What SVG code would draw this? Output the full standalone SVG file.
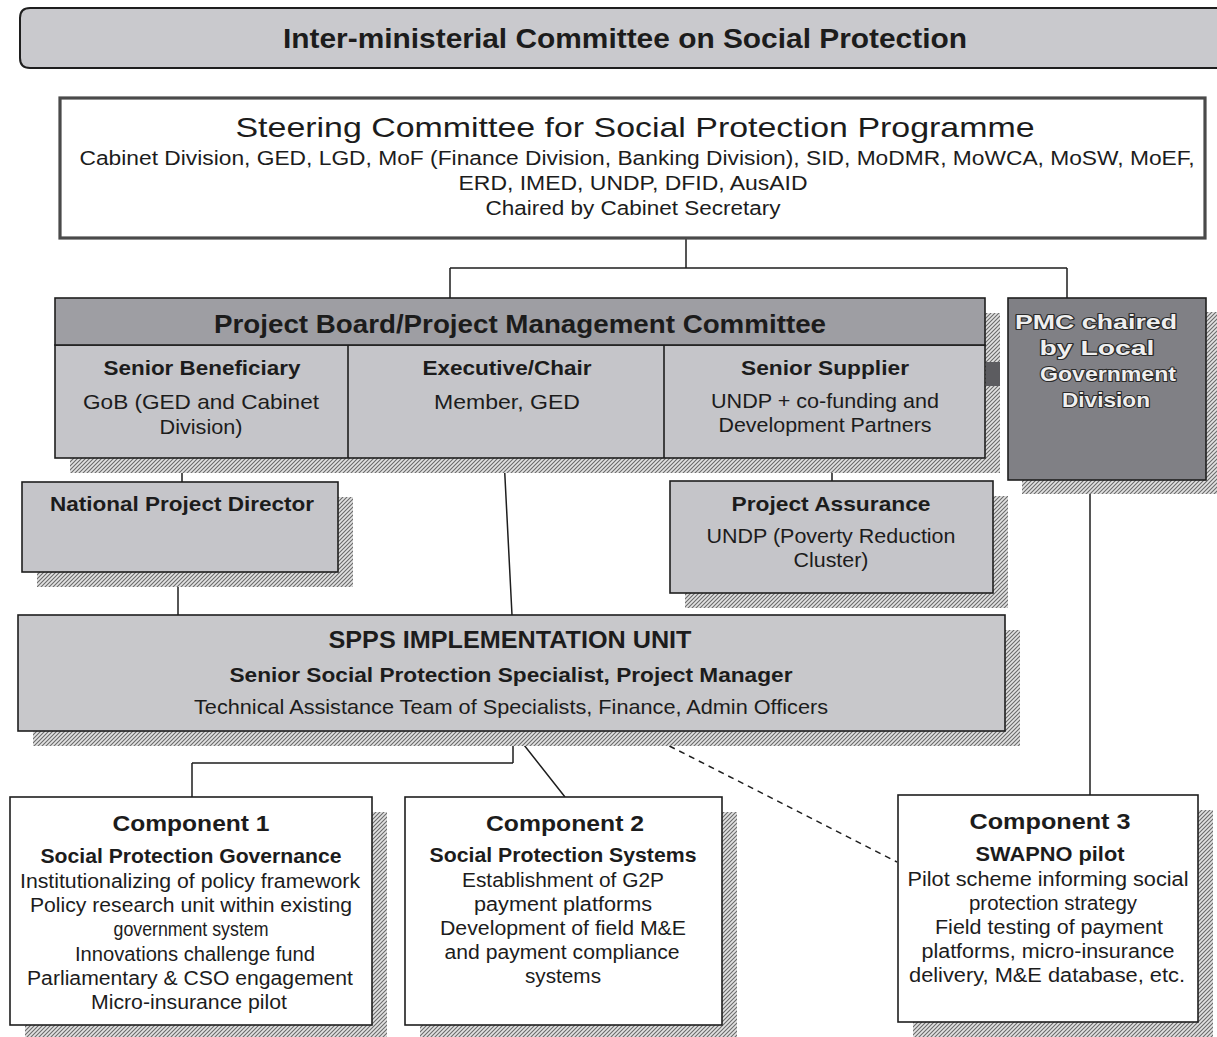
<svg xmlns="http://www.w3.org/2000/svg" width="1217" height="1037" viewBox="0 0 1217 1037">
  <defs>
    <pattern id="hatch" width="4" height="4" patternUnits="userSpaceOnUse">
      <rect width="4" height="4" fill="#e2e2e2"/>
      <path d="M-1,1 L1,-1 M0,4 L4,0 M3,5 L5,3" stroke="#6a6a6a" stroke-width="1.1"/>
    </pattern>
    <style>
      text { font-family: "Liberation Sans Narrow", "Liberation Sans", Arial, sans-serif; fill: #1c1c1c; text-anchor: middle; }
      .b { font-weight: bold; }
      .box { stroke: #1e1e1e; stroke-width: 1.6; }
      .grey { fill: #c5c5c9; }
      .white { fill: #ffffff; }
      .shadow { fill: url(#hatch); }
      .conn { stroke: #1e1e1e; stroke-width: 1.5; fill: none; }
      .dash { stroke-dasharray: 6 5; }
      .inv { fill: #efefef; stroke: #2a2a2a; stroke-width: 2.2; paint-order: stroke; stroke-linejoin: round; }
    </style>
  </defs>

  <rect width="1217" height="1037" fill="#ffffff"/>

  <!-- connectors -->
  <g id="connectors">
    <path class="conn" d="M686,239 V268 M450,268 H1067 M450,268 V298 M1067,268 V298"/>
    <path class="conn" d="M182,471 H832 M182,471 V482 M832,471 V481 M504,458 L512,615"/>
    <path class="conn" d="M178,572 V615"/>
    <path class="conn" d="M513,731 V763 M192,763 H513 M192,763 V797 M513,731 L565,797"/>
    <path class="conn dash" d="M640,731 L897,862"/>
    <path class="conn" d="M1090,480 V795"/>
  </g>

  <!-- top bar -->
  <g id="imc">
    <path d="M1230,8 H30 Q20,8 20,18 V58 Q20,68 30,68 H1230 Z" fill="#c9c9cd" stroke="#1e1e1e" stroke-width="2"/>
    <text x="625" y="48" class="b" font-size="28" textLength="684" lengthAdjust="spacingAndGlyphs">Inter-ministerial Committee on Social Protection</text>
  </g>

  <!-- steering committee -->
  <g id="steering">
    <rect x="60" y="98" width="1145" height="140" fill="#ffffff" stroke="#4a4a4a" stroke-width="3.2"/>
    <text x="635" y="137" font-size="28" textLength="799" lengthAdjust="spacingAndGlyphs">Steering Committee for Social Protection Programme</text>
    <text x="637" y="165" font-size="20" textLength="1115" lengthAdjust="spacingAndGlyphs">Cabinet Division, GED, LGD, MoF (Finance Division, Banking Division), SID, MoDMR, MoWCA, MoSW, MoEF,</text>
    <text x="633" y="190" font-size="20" textLength="349" lengthAdjust="spacingAndGlyphs">ERD, IMED, UNDP, DFID, AusAID</text>
    <text x="633" y="215" font-size="20" textLength="295" lengthAdjust="spacingAndGlyphs">Chaired by Cabinet Secretary</text>
  </g>

  <!-- project board -->
  <g id="project-board">
    <rect class="shadow" x="70" y="313" width="930" height="160"/>
    <rect x="55" y="345" width="930" height="113" class="grey box"/>
    <rect x="55" y="298" width="930" height="47" fill="#9e9ea3" class="box"/>
    <line x1="348" y1="345" x2="348" y2="458" class="box"/>
    <line x1="664" y1="345" x2="664" y2="458" class="box"/>
    <rect x="986" y="362" width="14" height="24" fill="#5c5c60"/>
    <text x="520" y="333" class="b" font-size="26" textLength="612" lengthAdjust="spacingAndGlyphs">Project Board/Project Management Committee</text>
    <text x="202" y="375" class="b" font-size="21" textLength="197" lengthAdjust="spacingAndGlyphs">Senior Beneficiary</text>
    <text x="201" y="409" font-size="21" textLength="236" lengthAdjust="spacingAndGlyphs">GoB (GED and Cabinet</text>
    <text x="201" y="434" font-size="21" textLength="83" lengthAdjust="spacingAndGlyphs">Division)</text>
    <text x="507" y="375" class="b" font-size="21" textLength="169" lengthAdjust="spacingAndGlyphs">Executive/Chair</text>
    <text x="507" y="409" font-size="21" textLength="146" lengthAdjust="spacingAndGlyphs">Member, GED</text>
    <text x="825" y="375" class="b" font-size="21" textLength="168" lengthAdjust="spacingAndGlyphs">Senior Supplier</text>
    <text x="825" y="408" font-size="21" textLength="228" lengthAdjust="spacingAndGlyphs">UNDP + co-funding and</text>
    <text x="825" y="432" font-size="21" textLength="213" lengthAdjust="spacingAndGlyphs">Development Partners</text>
  </g>

  <!-- PMC chaired by LGD -->
  <g id="pmc-lgd">
    <rect class="shadow" x="1022" y="312" width="195" height="182"/>
    <rect x="1008" y="298" width="198" height="182" fill="#808085" class="box"/>
    <text x="1096" y="329" class="b inv" font-size="21" textLength="162" lengthAdjust="spacingAndGlyphs">PMC chaired</text>
    <text x="1097" y="355" class="b inv" font-size="21" textLength="115" lengthAdjust="spacingAndGlyphs">by Local</text>
    <text x="1108" y="381" class="b inv" font-size="21" textLength="136" lengthAdjust="spacingAndGlyphs">Government</text>
    <text x="1106" y="407" class="b inv" font-size="21" textLength="88" lengthAdjust="spacingAndGlyphs">Division</text>
  </g>

  <!-- national project director -->
  <g id="npd">
    <rect class="shadow" x="37" y="497" width="316" height="90"/>
    <rect x="22" y="482" width="316" height="90" class="grey box"/>
    <text x="182" y="511" class="b" font-size="21" textLength="264" lengthAdjust="spacingAndGlyphs">National Project Director</text>
  </g>

  <!-- project assurance -->
  <g id="project-assurance">
    <rect class="shadow" x="685" y="496" width="323" height="112"/>
    <rect x="670" y="481" width="323" height="112" class="grey box"/>
    <text x="831" y="511" class="b" font-size="21" textLength="199" lengthAdjust="spacingAndGlyphs">Project Assurance</text>
    <text x="831" y="543" font-size="21" textLength="249" lengthAdjust="spacingAndGlyphs">UNDP (Poverty Reduction</text>
    <text x="831" y="567" font-size="21" textLength="75" lengthAdjust="spacingAndGlyphs">Cluster)</text>
  </g>

  <!-- implementation unit -->
  <g id="spps-unit">
    <rect class="shadow" x="33" y="630" width="987" height="116"/>
    <rect x="18" y="615" width="987" height="116" fill="#c8c8cb" class="box"/>
    <text x="510" y="648" class="b" font-size="24" textLength="363" lengthAdjust="spacingAndGlyphs">SPPS IMPLEMENTATION UNIT</text>
    <text x="511" y="682" class="b" font-size="21" textLength="563" lengthAdjust="spacingAndGlyphs">Senior Social Protection Specialist, Project Manager</text>
    <text x="511" y="714" font-size="21" textLength="634" lengthAdjust="spacingAndGlyphs">Technical Assistance Team of Specialists, Finance, Admin Officers</text>
  </g>

  <!-- component 1 -->
  <g id="component-1">
    <rect class="shadow" x="25" y="812" width="362" height="225"/>
    <rect x="10" y="797" width="362" height="228" class="white box"/>
    <text x="191" y="831" class="b" font-size="22" textLength="157" lengthAdjust="spacingAndGlyphs">Component 1</text>
    <text x="191" y="863" class="b" font-size="20" textLength="301" lengthAdjust="spacingAndGlyphs">Social Protection Governance</text>
    <text x="190" y="888" font-size="20" textLength="340" lengthAdjust="spacingAndGlyphs">Institutionalizing of policy framework</text>
    <text x="191" y="912" font-size="20" textLength="322" lengthAdjust="spacingAndGlyphs">Policy research unit within existing</text>
    <text x="191" y="936" font-size="20" textLength="155" lengthAdjust="spacingAndGlyphs">government system</text>
    <text x="195" y="961" font-size="20" textLength="240" lengthAdjust="spacingAndGlyphs">Innovations challenge fund</text>
    <text x="190" y="985" font-size="20" textLength="326" lengthAdjust="spacingAndGlyphs">Parliamentary &amp; CSO engagement</text>
    <text x="189" y="1009" font-size="20" textLength="196" lengthAdjust="spacingAndGlyphs">Micro-insurance pilot</text>
  </g>

  <!-- component 2 -->
  <g id="component-2">
    <rect class="shadow" x="420" y="812" width="317" height="225"/>
    <rect x="405" y="797" width="317" height="228" class="white box"/>
    <text x="565" y="831" class="b" font-size="22" textLength="158" lengthAdjust="spacingAndGlyphs">Component 2</text>
    <text x="563" y="862" class="b" font-size="20" textLength="267" lengthAdjust="spacingAndGlyphs">Social Protection Systems</text>
    <text x="563" y="887" font-size="20" textLength="202" lengthAdjust="spacingAndGlyphs">Establishment of G2P</text>
    <text x="563" y="911" font-size="20" textLength="178" lengthAdjust="spacingAndGlyphs">payment platforms</text>
    <text x="563" y="935" font-size="20" textLength="246" lengthAdjust="spacingAndGlyphs">Development of field M&amp;E</text>
    <text x="562" y="959" font-size="20" textLength="235" lengthAdjust="spacingAndGlyphs">and payment compliance</text>
    <text x="563" y="983" font-size="20" textLength="76" lengthAdjust="spacingAndGlyphs">systems</text>
  </g>

  <!-- component 3 -->
  <g id="component-3">
    <rect class="shadow" x="913" y="810" width="300" height="227"/>
    <rect x="898" y="795" width="300" height="227" class="white box"/>
    <text x="1050" y="829" class="b" font-size="22" textLength="161" lengthAdjust="spacingAndGlyphs">Component 3</text>
    <text x="1050" y="861" class="b" font-size="20" textLength="149" lengthAdjust="spacingAndGlyphs">SWAPNO pilot</text>
    <text x="1048" y="886" font-size="20" textLength="281" lengthAdjust="spacingAndGlyphs">Pilot scheme informing social</text>
    <text x="1053" y="910" font-size="20" textLength="168" lengthAdjust="spacingAndGlyphs">protection strategy</text>
    <text x="1049" y="934" font-size="20" textLength="228" lengthAdjust="spacingAndGlyphs">Field testing of payment</text>
    <text x="1048" y="958" font-size="20" textLength="253" lengthAdjust="spacingAndGlyphs">platforms, micro-insurance</text>
    <text x="1047" y="982" font-size="20" textLength="276" lengthAdjust="spacingAndGlyphs">delivery, M&amp;E database, etc.</text>
  </g>
</svg>
